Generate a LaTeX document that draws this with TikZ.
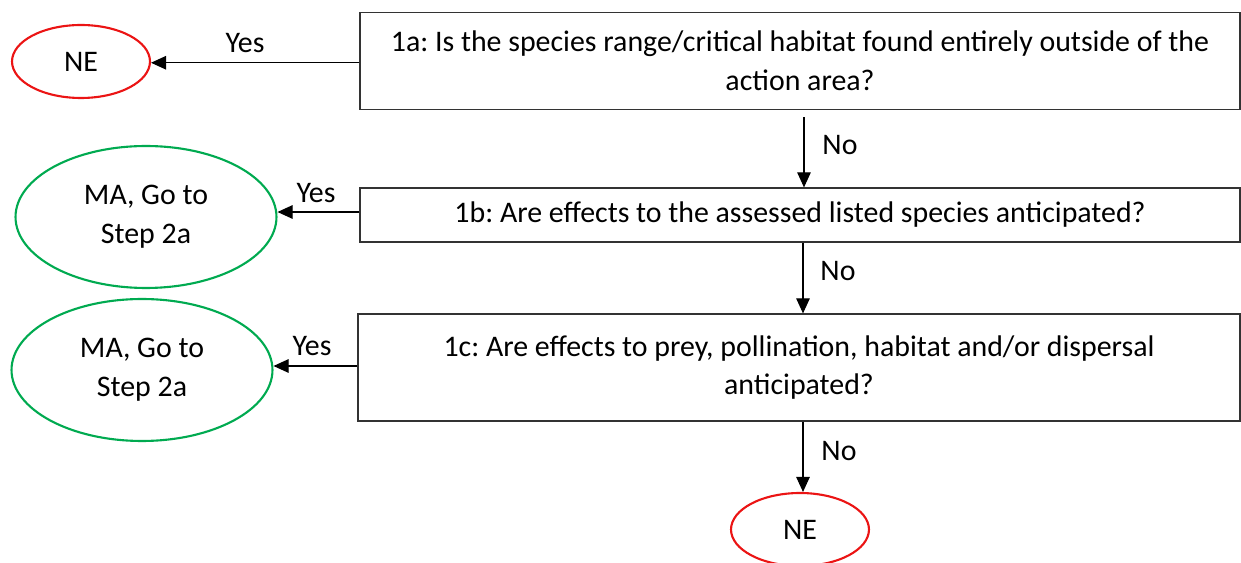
\documentclass[tikz,border=0pt]{standalone}
\usepackage{fontspec}
\setmainfont{Carlito}
\usepackage{xcolor}
\usetikzlibrary{positioning, arrows.meta, shapes.geometric}

\definecolor{nered}{RGB}{235,20,20}
\definecolor{magreen}{RGB}{0,170,80}
\frenchspacing

\begin{document}
\begin{tikzpicture}[
    x=0.02cm, y=-0.02cm,
    font=\fontsize{17pt}{22pt}\selectfont,
    qbox/.style={draw=black!80, line width=0.7pt, align=center, minimum width=17.6cm, inner sep=0pt},
    endne/.style={ellipse, draw=nered, line width=1.2pt, minimum width=2.76cm, minimum height=1.46cm, inner sep=0pt},
    endma/.style={ellipse, draw=magreen, line width=1.2pt, minimum width=5.22cm, minimum height=2.84cm, inner sep=0pt, align=center},
    arr/.style={-{Triangle[length=0.3cm, width=0.27cm]}, line width=0.6pt},
    lbl/.style={inner sep=0pt}
  ]
    \useasboundingbox (0,0) rectangle (1241,563);

    \node[qbox, minimum height=1.94cm] (q1a) at (800,61) {1a: Is the species range/critical habitat found entirely outside of the\\action area?};
    \node[qbox, minimum height=1.08cm] (q1b) at (800,215) {1b: Are effects to the assessed listed species anticipated?};
    \node[qbox, minimum height=2.14cm, minimum width=17.64cm] (q1c) at (799,367.5) {1c: Are effects to prey, pollination, habitat and/or dispersal\\anticipated?};

    \node[endne] (ne1) at (81,61.5) {NE};
    \node[endma] (ma1) at (146,217) {MA, Go to\\Step 2a};
    \node[endma] (ma2) at (142,370) {MA, Go to\\Step 2a};
    \node[endne] (ne2) at (800,529.5) {NE};

    % arrow ends
    \coordinate (y1) at ([yshift=-1pt]q1a.west);
    \coordinate (y2) at ([yshift=0.06cm]q1b.west);
    \coordinate (y3) at ([yshift=0.03cm]q1c.west);
    \coordinate (n1) at ([xshift=0.08cm]q1a.south);
    \coordinate (n2) at ([xshift=0.06cm]q1b.south);
    \coordinate (n3) at ([xshift=0.08cm]q1c.south);

    \draw[arr] (y1) -- (ne1.east |- y1);
    \draw[arr] (y2) -- (ma1.east |- y2);
    \draw[arr] (y3) -- (ma2.east |- y3);
    \draw[arr, shorten <=0.14cm] (n1) -- (n1 |- q1b.north);
    \draw[arr] (n2) -- (n2 |- q1c.north);
    \draw[arr] (n3) -- (n3 |- ne2.north);

    \node[lbl] (yes1) at (245,43) {Yes};
    \node[lbl] (yes2) at (316,193) {Yes};
    \node[lbl] (yes3) at (312,346) {Yes};
    \node[lbl] (no1) at (840,145) {No};
    \node[lbl] (no2) at (838,271) {No};
    \node[lbl] (no3) at (839,451) {No};
  \end{tikzpicture}
\end{document}
